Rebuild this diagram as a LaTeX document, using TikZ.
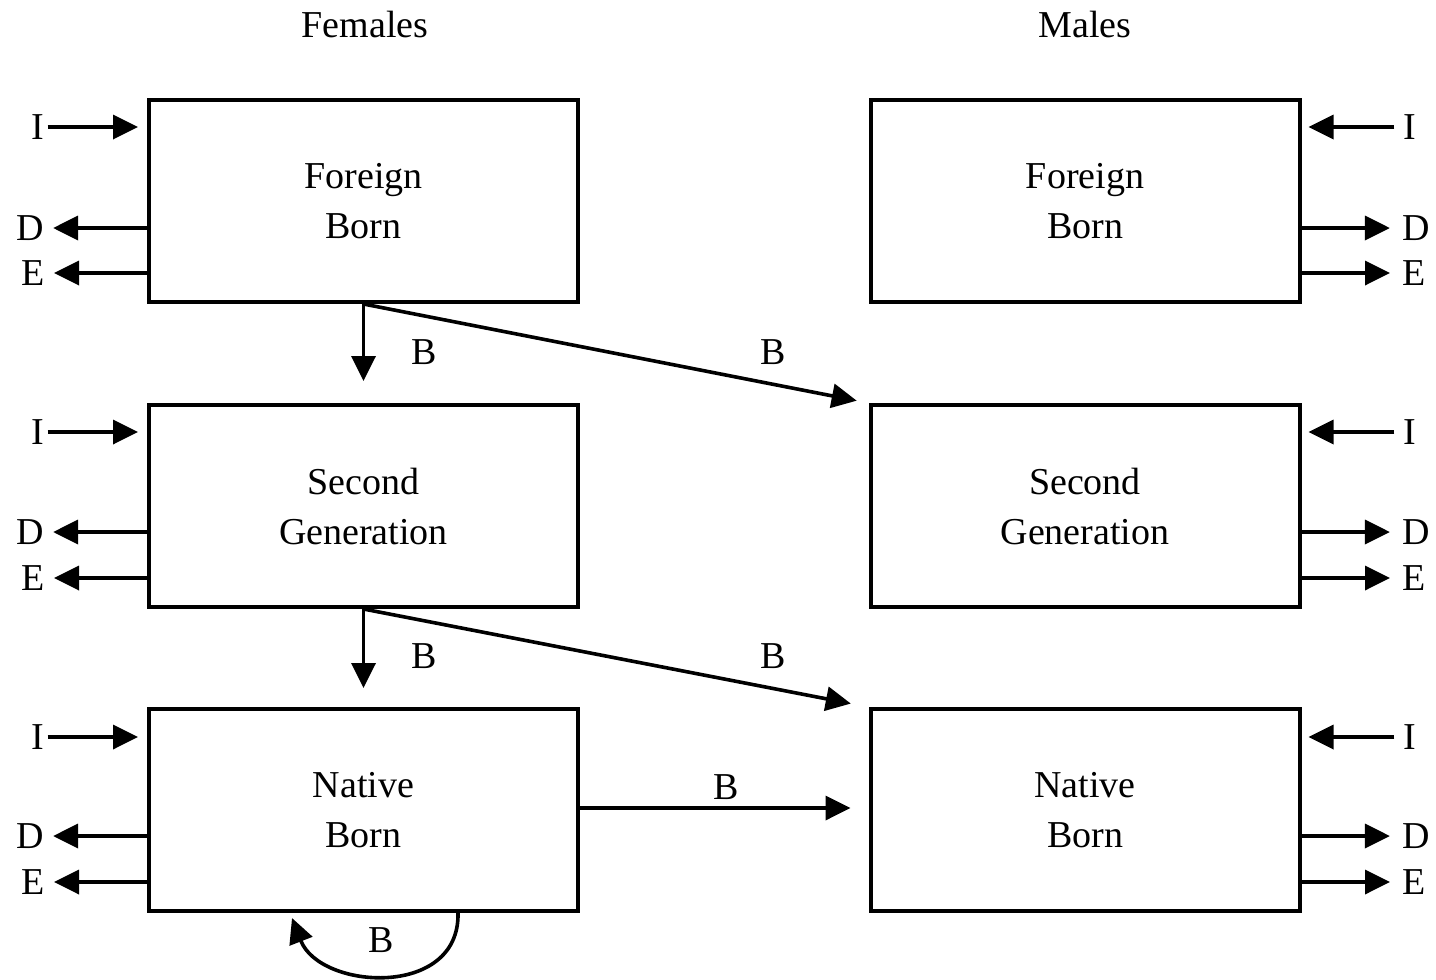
\documentclass[tikz,border=0pt]{standalone}
\usepackage{fontspec}
\setmainfont{Liberation Serif}
\usetikzlibrary{arrows.meta}
\begin{document}
\begin{tikzpicture}[x=0.5pt,y=-0.5pt,
  txt/.style={font=\fontsize{19}{25}\selectfont},
  box/.style={draw, line width=2pt, minimum width=214.5pt, minimum height=101pt, align=center, inner sep=0pt, txt},
  lbl/.style={inner sep=0pt, txt},
  arr/.style={line width=1.8pt, -{Triangle[length=12.5pt,width=12pt]}}]
\useasboundingbox (0,0) rectangle (1436,980);
% headers
\node[lbl] (hf) at (365,24) {Females};
\node[lbl] (hm) at (1085,24) {Males};
% boxes
\node[box] (f1) at (363.5,201) {Foreign\\Born};
\node[box] (f2) at (363.5,506) {Second\\Generation};
\node[box] (f3) at (363.5,810) {Native\\Born};
\node[box] (m1) at (1085,201) {Foreign\\Born};
\node[box] (m2) at (1085,506) {Second\\Generation};
\node[box] (m3) at (1085,810) {Native\\Born};
% side labels and arrows
\foreach \r/\fb/\mb/\yi/\yd/\ye in {1/f1/m1/127/228/273, 2/f2/m2/432/532/578, 3/f3/m3/737/836/882}{
  \node[lbl] (iL\r) at (38,\yi) {I};
  \node[lbl] (dL\r) at (30,\yd) {D};
  \node[lbl] (eL\r) at (33,\ye) {E};
  \node[lbl] (iR\r) at (1410,\yi) {I};
  \node[lbl] (dR\r) at (1416,\yd) {D};
  \node[lbl] (eR\r) at (1414,\ye) {E};
  \draw[arr, shorten <=1.5pt, shorten >=4.5pt] (iL\r.east) -- (\fb.west |- iL\r);
  \draw[arr, shorten >=4.5pt] (\fb.west |- dL\r) -- (dL\r.east);
  \draw[arr, shorten >=4.5pt] (\fb.west |- eL\r) -- (eL\r.east);
  \draw[arr, shorten <=4.5pt, shorten >=3.5pt] (iR\r.west) -- (\mb.east |- iR\r);
  \draw[arr, shorten >=6pt] ([xshift=-1.5pt]\mb.east |- dR\r) -- (dR\r.west);
  \draw[arr, shorten >=6pt] ([xshift=-1.5pt]\mb.east |- eR\r) -- (eR\r.west);
}
% births
\draw[arr, shorten >=11pt] (f1.south) -- (f2.north);
\draw[arr, shorten >=6pt] (f1.south) -- (m2.north west);
\draw[arr, shorten >=9.5pt] (f2.south) -- (f3.north);
\draw[arr, shorten >=9pt] (f2.south) -- (m3.north west);
\draw[arr, shorten >=9pt] ([yshift=1pt]f3.east) -- ([yshift=1pt]m3.west);
\node[lbl] (b1) at (424,352) {B};
\node[lbl] (b2) at (773,352) {B};
\node[lbl] (b3) at (424,656) {B};
\node[lbl] (b4) at (773,656) {B};
\node[lbl] (b5) at (726,787) {B};
\node[lbl] (b6) at (381,940) {B};
\coordinate (loopend) at (292,918);
\draw[arr] ([xshift=47.25pt]f3.south) .. controls +(2,86) and +(28,72) .. (loopend);
\end{tikzpicture}
\end{document}
